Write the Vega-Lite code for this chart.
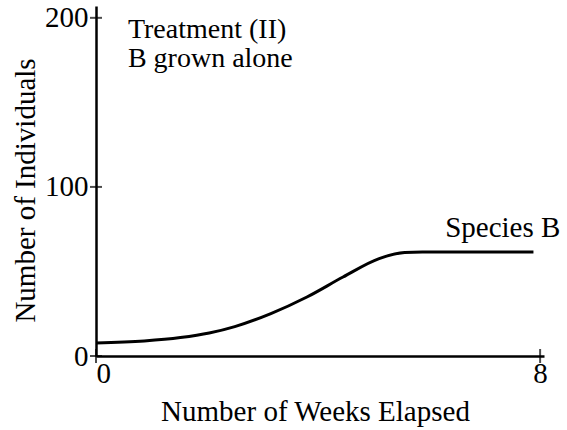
{
  "$schema": "https://vega.github.io/schema/vega-lite/v6.json",
  "width": 448,
  "height": 350,
  "autosize": "none",
  "padding": {"left": 96, "top": 6, "right": 23, "bottom": 74},
  "background": "white",
  "config": {"view": {"stroke": null}, "font": "Liberation Serif"},
  "layer": [
    {
      "data": {"values": [
        {"week": 0, "count": 7.7},
        {"week": 0.87, "count": 8.9},
        {"week": 1.52, "count": 10.9},
        {"week": 2.04, "count": 13.6},
        {"week": 2.5, "count": 17.4},
        {"week": 3.15, "count": 25.1},
        {"week": 3.8, "count": 34.9},
        {"week": 4.45, "count": 46.7},
        {"week": 5.1, "count": 57.6},
        {"week": 5.56, "count": 61.2},
        {"week": 5.88, "count": 61.5},
        {"week": 7.88, "count": 61.5}
      ]},
      "mark": {"type": "line", "interpolate": "monotone", "color": "black", "strokeWidth": 3},
      "encoding": {
        "x": {
          "field": "week", "type": "quantitative",
          "scale": {"domain": [0, 8.07], "nice": false, "zero": false},
          "axis": {
            "values": [0, 8], "format": "d", "grid": false, "ticks": false,
            "domainColor": "black", "domainWidth": 2.5,
            "labelFont": "Liberation Serif", "labelFontSize": 29, "labelColor": "black", "labelPadding": 3,
            "title": "Number of Weeks Elapsed", "titleFont": "Liberation Serif", "titleFontSize": 29,
            "titleFontWeight": "normal", "titleColor": "black",
            "titleX": 219, "titleY": 64, "titleBaseline": "alphabetic", "titleAlign": "center"
          }
        },
        "y": {
          "field": "count", "type": "quantitative",
          "scale": {"domain": [0, 207], "nice": false},
          "axis": {
            "values": [0, 100, 200], "format": "d", "grid": false, "ticks": false,
            "domainColor": "black", "domainWidth": 2.5,
            "labelFont": "Liberation Serif", "labelFontSize": 29, "labelColor": "black", "labelPadding": 8,
            "title": "Number of Individuals", "titleFont": "Liberation Serif", "titleFontSize": 29,
            "titleFontWeight": "normal", "titleColor": "black",
            "titleX": -62, "titleY": 184, "titleBaseline": "alphabetic", "titleAlign": "center", "titleAngle": 270
          }
        }
      }
    },
    {
      "data": {"values": [{"count": 0}, {"count": 100}, {"count": 200}]},
      "mark": {"type": "tick", "orient": "horizontal", "size": 12, "thickness": 2, "color": "black"},
      "encoding": {
        "x": {"datum": 0, "type": "quantitative"},
        "y": {"field": "count", "type": "quantitative"}
      }
    },
    {
      "data": {"values": [{"week": 0}, {"week": 8}]},
      "mark": {"type": "tick", "orient": "vertical", "size": 14, "thickness": 2, "color": "black"},
      "encoding": {
        "x": {"field": "week", "type": "quantitative"},
        "y": {"datum": 0, "type": "quantitative"}
      }
    },
    {
      "data": {"values": [{}]},
      "mark": {"type": "text", "align": "left", "baseline": "alphabetic", "font": "Liberation Serif", "fontSize": 28, "color": "black"},
      "encoding": {
        "x": {"datum": 0.575, "type": "quantitative"},
        "y": {"datum": 187.8, "type": "quantitative"},
        "text": {"value": "Treatment (II)"}
      }
    },
    {
      "data": {"values": [{}]},
      "mark": {"type": "text", "align": "left", "baseline": "alphabetic", "font": "Liberation Serif", "fontSize": 28, "color": "black"},
      "encoding": {
        "x": {"datum": 0.575, "type": "quantitative"},
        "y": {"datum": 171, "type": "quantitative"},
        "text": {"value": "B grown alone"}
      }
    },
    {
      "data": {"values": [{}]},
      "mark": {"type": "text", "align": "left", "baseline": "alphabetic", "font": "Liberation Serif", "fontSize": 29, "color": "black"},
      "encoding": {
        "x": {"datum": 6.29, "type": "quantitative"},
        "y": {"datum": 70.4, "type": "quantitative"},
        "text": {"value": "Species B"}
      }
    }
  ]
}
